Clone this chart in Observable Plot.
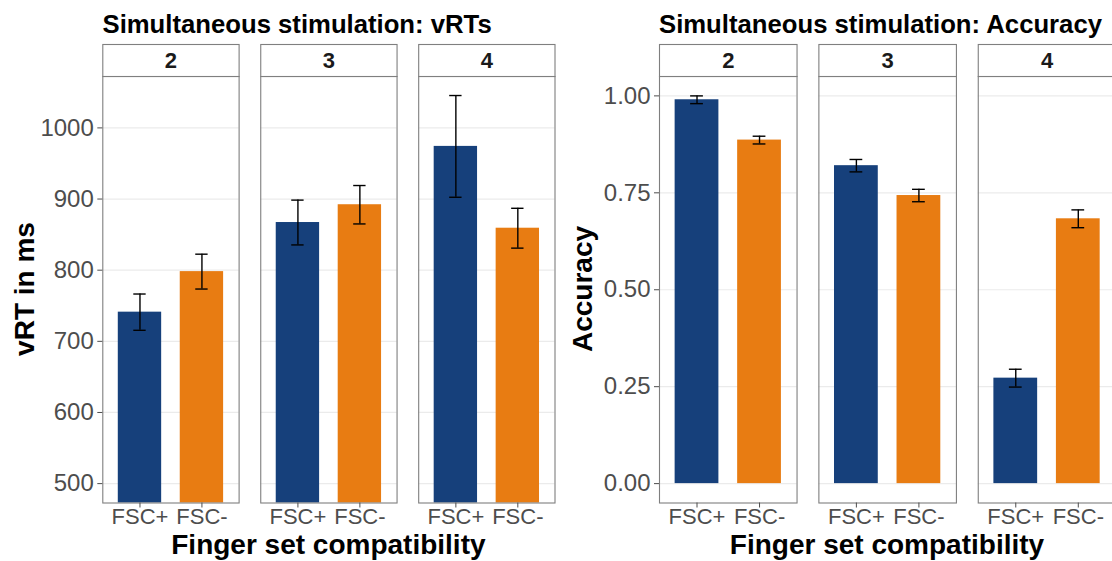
<!DOCTYPE html>
<html>
<head>
<meta charset="utf-8">
<script src="https://cdn.jsdelivr.net/npm/d3@7"></script>
<script src="https://cdn.jsdelivr.net/npm/@observablehq/plot@0.6"></script>
<style>
  html, body { margin: 0; padding: 0; background: #fff; }
  body {
    width: 1112px; height: 561px; overflow: hidden; position: relative;
    font-family: "Liberation Sans", Arial, Helvetica, sans-serif;
  }
  .chart { position: absolute; top: 0; width: 560px; height: 561px; }
  .chart svg { max-width: none !important; display: block; }
  .title {
    position: absolute; font-weight: bold; font-size: 25.7px; line-height: 25.7px;
    color: #000; white-space: nowrap;
  }
  .xlab, .ylab {
    position: absolute; font-weight: bold; font-size: 28px; line-height: 22px;
    color: #000; white-space: nowrap;
  }
  .xlab { transform: translate(-50%, -50%); }
  .ylab { transform: translate(-50%, -50%) rotate(-90deg); }
</style>
</head>
<body>
<div id="left" class="chart" style="left:0px"></div>
<div id="right" class="chart" style="left:560px"></div>

<div class="title" style="left:102.5px; top:12px">Simultaneous stimulation: vRTs</div>
<div class="title" style="left:659px; top:12px">Simultaneous stimulation: Accuracy</div>
<div class="xlab" style="left:328.4px; top:545px">Finger set compatibility</div>
<div class="xlab" style="left:887px; top:545px">Finger set compatibility</div>
<div class="ylab" style="left:24.5px; top:289.3px">vRT in ms</div>
<div class="ylab" style="left:583px; top:289.3px">Accuracy</div>

<script>
// Number of fingers in the stimulated set (facet panels) and compatibility levels
const fingerSets = ["2", "3", "4"];
const compat = ["FSC+", "FSC-"];

// Mean vRT (ms) and standard error, ordered set 2 FSC+, set 2 FSC-, set 3 FSC+, ...
const vrtMean = [741, 798, 867, 892, 974, 859];
const vrtSE   = [25.5, 24.5, 31.5, 27, 71.5, 28];
const vrtTicks = [500, 600, 700, 800, 900, 1000];

// Mean accuracy (proportion correct) and standard error, same ordering
const accMean = [0.990, 0.886, 0.820, 0.743, 0.272, 0.683];
const accSE   = [0.010, 0.010, 0.016, 0.016, 0.023, 0.023];
const accTicks = [0, 0.25, 0.5, 0.75, 1];

const barColors = ["#16407b", "#e87c12"];

function rowsFrom(means, ses) {
  return fingerSets.flatMap((set, i) =>
    compat.map((fsc, j) => ({ set, fsc, mean: means[i * 2 + j], se: ses[i * 2 + j] }))
  );
}

const fontFamily = '"Liberation Sans", Arial, Helvetica, sans-serif';
const HEIGHT = 561, MT = 76, MB = 58.5, STRIP = 32;
const panelH = HEIGHT - MT - MB;

function facetChart({ rows, yDomain, yTicks, yFormat, width, marginLeft, marginRight }) {
  const whisker = { stroke: "#000", strokeWidth: 1.4 };
  return Plot.plot({
    width, height: HEIGHT,
    marginLeft, marginRight, marginTop: MT, marginBottom: MB,
    style: { fontFamily, background: "transparent", overflow: "visible", maxWidth: "none" },
    fx: { domain: fingerSets, paddingInner: 0.137, paddingOuter: 0, axis: null, label: null, round: false },
    x: { domain: compat, paddingInner: 0.3, paddingOuter: 0.25, label: null, round: false },
    y: { domain: yDomain, label: null },
    color: { domain: compat, range: barColors },
    marks: [
      Plot.gridY(yTicks, { stroke: "#ebebeb", strokeOpacity: 1, strokeWidth: 1.2 }),
      Plot.barY(rows, { fx: "set", x: "fsc", y: "mean", fill: "fsc", clip: true }),
      Plot.ruleX(rows, { fx: "set", x: "fsc", y1: d => d.mean - d.se, y2: d => d.mean + d.se, ...whisker }),
      Plot.tickY(rows, { fx: "set", x: "fsc", y: d => d.mean + d.se, insetLeft: 15.5, insetRight: 15.5, ...whisker }),
      Plot.tickY(rows, { fx: "set", x: "fsc", y: d => d.mean - d.se, insetLeft: 15.5, insetRight: 15.5, ...whisker }),
      Plot.frame({ stroke: "#7f7f7f", strokeWidth: 1.1 }),
      // strip boxes above each panel
      Plot.frame({ fill: "white", stroke: "#7f7f7f", strokeWidth: 1.1, insetTop: -STRIP, insetBottom: panelH }),
      Plot.text(fingerSets, {
        fx: d => d, text: d => d, frameAnchor: "top", lineAnchor: "middle", dy: -STRIP / 2,
        fontSize: 22, fontWeight: "bold", fill: "#1a1a1a"
      }),
      Plot.axisY(yTicks, { tickSize: 5, tickPadding: 4, fontSize: 24, color: "#4d4d4d", tickFormat: yFormat, label: null }),
      Plot.axisX({ tickSize: 5, tickPadding: 0.5, fontSize: 22, color: "#4d4d4d", label: null })
    ]
  });
}

document.getElementById("left").append(facetChart({
  rows: rowsFrom(vrtMean, vrtSE),
  yDomain: [472.75, 1072.25],
  yTicks: vrtTicks,
  yFormat: d => String(d),
  width: 560, marginLeft: 102.3, marginRight: 5.5
}));

document.getElementById("right").append(facetChart({
  rows: rowsFrom(accMean, accSE),
  yDomain: [-0.05, 1.05],
  yTicks: accTicks,
  yFormat: d3.format(".2f"),
  width: 560, marginLeft: 99, marginRight: 4.7
}));
</script>
</body>
</html>
